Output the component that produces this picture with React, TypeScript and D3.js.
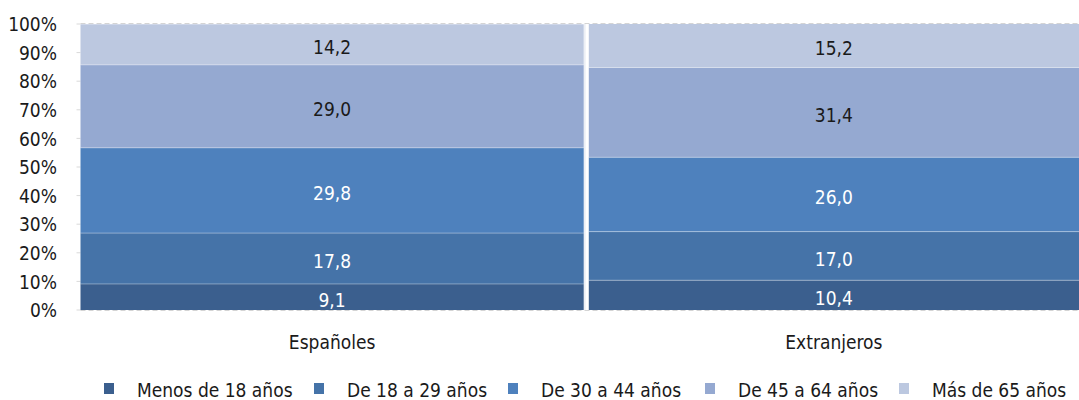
import { useEffect, useRef } from 'react';
import * as d3 from 'd3';

const groups = ['Españoles', 'Extranjeros'];
const seriesNames = ['Menos de 18 años', 'De 18 a 29 años', 'De 30 a 44 años', 'De 45 a 64 años', 'Más de 65 años'];
const espanoles = [9.1, 17.8, 29.8, 29.0, 14.2];
const extranjeros = [10.4, 17.0, 26.0, 31.4, 15.2];
const colors = ['#3b5f8e', '#4573a8', '#4e81bd', '#95a9d1', '#bcc8e0'];
const labelColors = ['#ffffff', '#ffffff', '#ffffff', '#1a1a1a', '#1a1a1a'];
const yTicks = [0, 10, 20, 30, 40, 50, 60, 70, 80, 90, 100];
const legendX = [104, 314, 508, 705, 899];

const FONT = '"DejaVu Sans Condensed", "Liberation Sans Narrow", sans-serif';
const FS = 19;

export default function App() {
  const ref = useRef<SVGSVGElement>(null);

  useEffect(() => {
    if (!ref.current) return;
    const svg = d3.select(ref.current);
    svg.selectAll('*').remove();

    const left = 80.5, right = 1092, top = 24, bottom = 310, visRight = 1079;
    const values = [espanoles, extranjeros];

    const x = d3.scaleBand().domain(groups).range([left, right]).paddingInner(0.01).paddingOuter(0);
    const y = d3.scaleLinear().domain([0, 100]).range([bottom, top]);

    const g = svg.append('g').attr('font-family', FONT);

    // tick marks
    g.selectAll('line.tick')
      .data(yTicks)
      .enter()
      .append('line')
      .attr('x1', left - 4)
      .attr('x2', left)
      .attr('y1', d => y(d))
      .attr('y2', d => y(d))
      .attr('stroke', '#d9d9d9');

    // y labels
    g.selectAll('text.ylab')
      .data(yTicks)
      .enter()
      .append('text')
      .text(d => `${d}%`)
      .attr('x', 57)
      .attr('y', d => y(d))
      .attr('dy', '0.38em')
      .attr('text-anchor', 'end')
      .attr('font-size', FS)
      .attr('fill', '#1a1a1a');

    // stacked bars
    groups.forEach((grp, gi) => {
      let acc = 0;
      const bx = x(grp)!;
      const bw = Math.min(x.bandwidth(), visRight - bx);
      values[gi].forEach((v, si) => {
        const y0 = y(acc);
        const y1 = y(acc + v);
        acc += v;
        g.append('rect')
          .attr('x', bx)
          .attr('y', y1)
          .attr('width', x.bandwidth())
          .attr('height', y0 - y1)
          .attr('fill', colors[si]);
        if (si > 0) {
          g.append('line')
            .attr('x1', bx)
            .attr('x2', bx + x.bandwidth())
            .attr('y1', y0)
            .attr('y2', y0)
            .attr('stroke', '#ffffff')
            .attr('stroke-opacity', 0.35)
            .attr('stroke-width', 1);
        }
        g.append('text')
          .text(d3.format('.1f')(v).replace('.', ','))
          .attr('x', bx + bw / 2)
          .attr('y', (y0 + y1) / 2 + 3)
          .attr('dy', '0.35em')
          .attr('text-anchor', 'middle')
          .attr('font-size', FS)
          .attr('fill', labelColors[si]);
      });
      g.append('text')
        .text(grp)
        .attr('x', bx + bw / 2)
        .attr('y', 342)
        .attr('dy', '0.35em')
        .attr('text-anchor', 'middle')
        .attr('font-size', FS)
        .attr('fill', '#1a1a1a');
    });

    // faint divider between categories
    const divX = x(groups[0])! + x.bandwidth() + 1.2;
    g.append('line')
      .attr('x1', divX)
      .attr('x2', divX)
      .attr('y1', top)
      .attr('y2', bottom)
      .attr('stroke', '#dfe4ee')
      .attr('stroke-width', 1);

    // dashed top/bottom lines
    [0, 100].forEach(v => {
      g.append('line')
        .attr('x1', left)
        .attr('x2', visRight)
        .attr('y1', y(v) + (v === 0 ? 0.5 : -0.5))
        .attr('y2', y(v) + (v === 0 ? 0.5 : -0.5))
        .attr('stroke', '#d4d4d4')
        .attr('stroke-dasharray', '5,3');
    });

    // legend
    seriesNames.forEach((name, i) => {
      g.append('rect')
        .attr('x', legendX[i])
        .attr('y', 383)
        .attr('width', 10)
        .attr('height', 11)
        .attr('fill', colors[i]);
      g.append('text')
        .text(name)
        .attr('x', legendX[i] + 33)
        .attr('y', 390)
        .attr('dy', '0.35em')
        .attr('font-size', FS)
        .attr('fill', '#1a1a1a');
    });
  }, []);

  return <svg ref={ref} width={1079} height={400} style={{ display: 'block', position: 'absolute', left: 0, top: 0 }} />;
}
